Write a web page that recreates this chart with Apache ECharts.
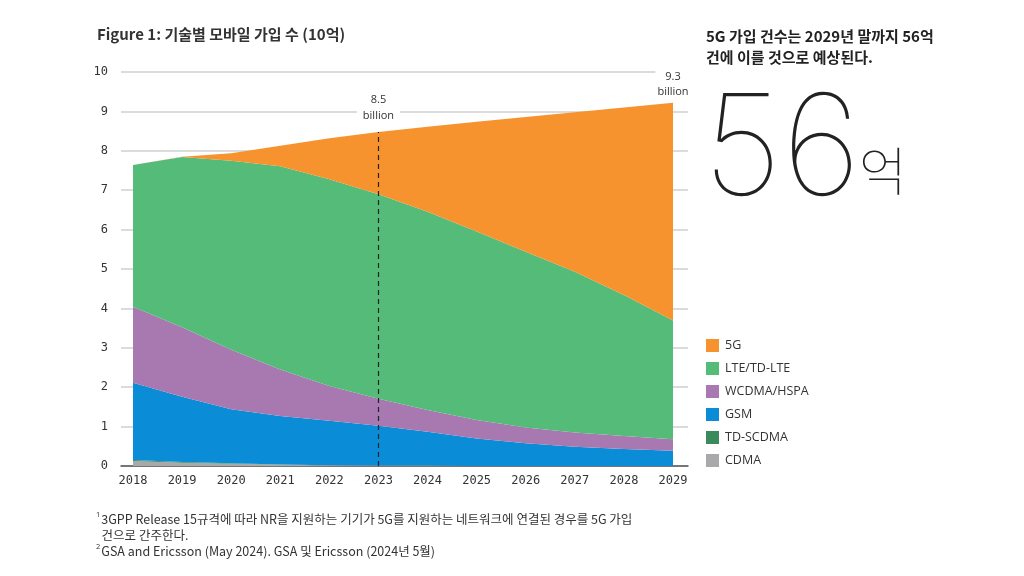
<!DOCTYPE html>
<html>
<head>
<meta charset="utf-8">
<script src="https://cdn.jsdelivr.net/npm/echarts@6.0.0/dist/echarts.min.js"></script>
<style>
html,body{margin:0;padding:0;background:#fff;}
#main{width:1024px;height:576px;}
</style>
</head>
<body>
<div id="main"></div>
<script>
// 연도 (x축)
var years = ['2018','2019','2020','2021','2022','2023','2024','2025','2026','2027','2028','2029'];
// 기술별 가입 수 (10억), 아래에서 위로 쌓는 순서
var cdma    = [0.13,0.08,0.06,0.03,0.02,0.01,0.01,0,0,0,0,0];
var tdscdma = [0.02,0.02,0.01,0.01,0,0,0,0,0,0,0,0];
var gsm     = [1.96,1.66,1.37,1.23,1.13,1.01,0.86,0.70,0.58,0.49,0.43,0.39];
var wcdma   = [1.93,1.76,1.51,1.18,0.88,0.69,0.55,0.47,0.40,0.36,0.33,0.29];
var lte     = [3.60,4.32,4.80,5.16,5.25,5.19,5.03,4.78,4.46,4.08,3.58,3.01];
var nr5g    = [0,0.01,0.19,0.52,1.04,1.58,2.16,2.79,3.42,4.05,4.76,5.53];
var yTicks  = [0,1,2,3,4,5,6,7,8,9,10];
var legendNames = ['5G','LTE/TD-LTE','WCDMA/HSPA','GSM','TD-SCDMA','CDMA'];

var colors = {
	'5G':'#F7932F',
	'LTE/TD-LTE':'#55BB79',
	'WCDMA/HSPA':'#A878B1',
	'GSM':'#0A8DD6',
	'TD-SCDMA':'#3B8A5C',
	'CDMA':'#A9A9AB'
};

var chart = echarts.init(document.getElementById('main'));

function areaSeries(name, data){
	return {
		name: name,
		type: 'line',
		stack: 'total',
		xAxisIndex: 1,
		yAxisIndex: 1,
		symbol: 'none',
		smooth: false,
		data: data,
		color: colors[name],
		lineStyle: {width: 0},
		areaStyle: {color: colors[name], opacity: 1},
		emphasis: {disabled: true}
	};
}

var s5g = areaSeries('5G', nr5g);
s5g.markLine = {
	silent: true,
	symbol: 'none',
	lineStyle: {color: '#222', type: [5,4], width: 1.2},
	label: {
		show: true,
		position: 'end',
		formatter: '8.5\nbillion',
		color: '#333',
		fontFamily: 'Open Sans',
		fontSize: 11,
		lineHeight: 16,
		backgroundColor: '#fff',
		padding: [0,6,2,6],
		distance: 6
	},
	data: [[{coord: ['2023', 0]}, {coord: ['2023', 8.48]}]]
};
s5g.markPoint = {
	silent: true,
	symbol: 'circle',
	symbolSize: 0,
	label: {
		show: true,
		position: 'top',
		formatter: '9.3\nbillion',
		color: '#333',
		fontFamily: 'Open Sans',
		fontSize: 11,
		lineHeight: 15,
		backgroundColor: '#fff',
		padding: [0,2,1,2],
		distance: 2
	},
	data: [{coord: ['2029', 9.22]}]
};

var option = {
	backgroundColor: '#fff',
	animation: false,
	legend: {
		data: legendNames,
		orient: 'vertical',
		left: 706,
		top: 339,
		padding: 0,
		icon: 'rect',
		itemWidth: 13,
		itemHeight: 13,
		itemGap: 10,
		selectedMode: false,
		textStyle: {color: '#333', fontFamily: 'Open Sans', fontSize: 12.5, padding: [0,0,0,1]}
	},
	grid: [
		{left: 121, right: 336, top: 72, bottom: 110},
		{left: 133, right: 351, top: 72, bottom: 110}
	],
	xAxis: [
		{
			gridIndex: 0, type: 'value', min: 0, max: 1,
			axisLine: {show: true, onZero: false, lineStyle: {color: '#555', width: 1.5}},
			axisTick: {show: false}, axisLabel: {show: false}, splitLine: {show: false}
		},
		{
			gridIndex: 1, type: 'category', data: years, boundaryGap: false,
			axisLine: {show: false}, axisTick: {show: false},
			axisLabel: {color: '#333', fontFamily: 'DejaVu Sans Mono', fontSize: 12, margin: 9}
		}
	],
	yAxis: [
		{
			gridIndex: 0, type: 'value', min: 0, max: 10, interval: 1,
			axisLine: {show: false}, axisTick: {show: false},
			axisLabel: {color: '#333', fontFamily: 'DejaVu Sans Mono', fontSize: 12, margin: 13,
				formatter: function(v){ return yTicks.indexOf(v) >= 0 ? String(v) : ''; }},
			splitLine: {show: true, lineStyle: {color: '#cfcfcf', width: 1.5}}
		},
		{
			gridIndex: 1, type: 'value', min: 0, max: 10, interval: 1,
			show: false, splitLine: {show: false}
		}
	],
	series: [
		areaSeries('CDMA', cdma),
		areaSeries('TD-SCDMA', tdscdma),
		areaSeries('GSM', gsm),
		areaSeries('WCDMA/HSPA', wcdma),
		areaSeries('LTE/TD-LTE', lte),
		s5g
	],
	graphic: [
		{type: 'text', left: 97, top: 27, style: {
			text: 'Figure 1: 기술별 모바일 가입 수 (10억)',
			fill: '#333', font: 'bold 15px "Noto Sans CJK KR"'}},
		{type: 'text', left: 706, top: 26, style: {
			text: '5G 가입 건수는 2029년 말까지 56억\n건에 이를 것으로 예상된다.',
			fill: '#222', font: 'bold 15px "Noto Sans CJK KR"', lineHeight: 21}},
		{type: 'text', left: 703, top: 83, style: {
			text: '56', fill: '#222', font: '100 140px "Inter"'}},
		{type: 'text', left: 859, top: 145, style: {
			text: '억', fill: '#222', font: '100 52px "Noto Sans CJK KR"'}},
		{type: 'text', left: 96, top: 511, style: {
			rich: {
				sup: {fontSize: 7.5, verticalAlign: 'top', fill: '#333', fontFamily: 'Open Sans', padding: [0,1,7,0]},
				t: {fontSize: 12.5, fill: '#333', fontFamily: 'Noto Sans CJK KR', lineHeight: 16}
			},
			text: '{sup|1}{t|3GPP Release 15규격에 따라 NR을 지원하는 기기가 5G를 지원하는 네트워크에 연결된 경우를 5G 가입}\n{t|  건으로 간주한다.}\n{sup|2}{t|GSA and Ericsson (May 2024). GSA 및 Ericsson (2024년 5월)}'
		}}
	]
};
chart.setOption(option);
</script>
</body>
</html>
